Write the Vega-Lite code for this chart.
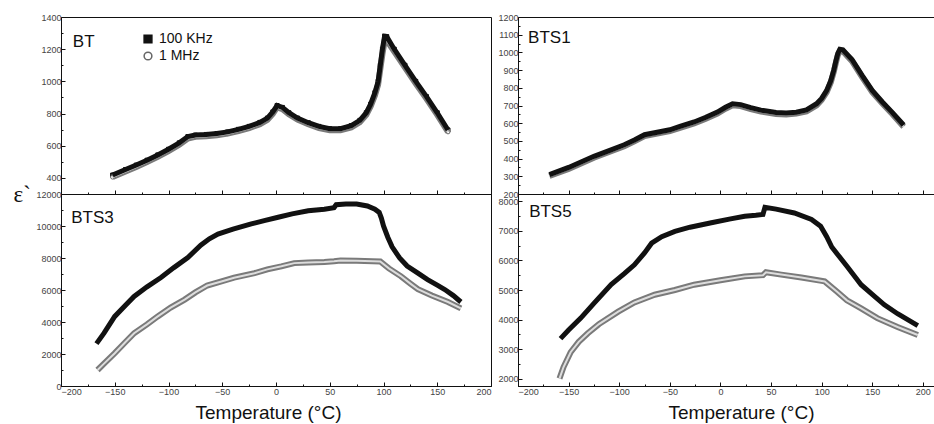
{
  "$schema": "https://vega.github.io/schema/vega-lite/v6.json",
  "background": "white",
  "padding": {"left": 12, "top": 12, "right": 0, "bottom": 0},
  "columns": 2,
  "spacing": {"row": 0, "column": 27},
  "bounds": "flush",
  "config": {
    "view": {"stroke": "#111", "strokeWidth": 1},
    "axis": {"labelFont": "Liberation Sans", "labelFontSize": 9, "labelColor": "#444", "domainColor": "#111", "tickColor": "#111", "titleFont": "Liberation Sans", "titleFontWeight": "normal", "titleColor": "#111", "grid": false, "labelPadding": 4},
    "text": {"font": "Liberation Sans", "fontSize": 17, "color": "#111", "align": "left", "baseline": "alphabetic"}
  },
  "datasets": {
    "bt": [
      {"f":"100 KHz","T":-152,"e":418},{"f":"100 KHz","T":-140,"e":452},{"f":"100 KHz","T":-130,"e":480},{"f":"100 KHz","T":-120,"e":510},{"f":"100 KHz","T":-110,"e":543},{"f":"100 KHz","T":-100,"e":578},{"f":"100 KHz","T":-90,"e":618},{"f":"100 KHz","T":-82,"e":657},{"f":"100 KHz","T":-75,"e":666},{"f":"100 KHz","T":-65,"e":670},{"f":"100 KHz","T":-55,"e":676},{"f":"100 KHz","T":-45,"e":686},{"f":"100 KHz","T":-35,"e":702},{"f":"100 KHz","T":-25,"e":720},{"f":"100 KHz","T":-15,"e":745},{"f":"100 KHz","T":-8,"e":772},{"f":"100 KHz","T":-3,"e":810},{"f":"100 KHz","T":1,"e":850},{"f":"100 KHz","T":6,"e":838},{"f":"100 KHz","T":12,"e":805},{"f":"100 KHz","T":20,"e":772},{"f":"100 KHz","T":30,"e":743},{"f":"100 KHz","T":40,"e":720},{"f":"100 KHz","T":50,"e":706},{"f":"100 KHz","T":60,"e":706},{"f":"100 KHz","T":70,"e":725},{"f":"100 KHz","T":78,"e":758},{"f":"100 KHz","T":84,"e":805},{"f":"100 KHz","T":88,"e":858},{"f":"100 KHz","T":92,"e":930},{"f":"100 KHz","T":95,"e":1000},{"f":"100 KHz","T":97,"e":1100},{"f":"100 KHz","T":99,"e":1200},{"f":"100 KHz","T":101,"e":1280},{"f":"100 KHz","T":103,"e":1278},{"f":"100 KHz","T":110,"e":1200},{"f":"100 KHz","T":120,"e":1100},{"f":"100 KHz","T":130,"e":1000},{"f":"100 KHz","T":140,"e":905},{"f":"100 KHz","T":150,"e":805},{"f":"100 KHz","T":160,"e":698},
      {"f":"1 MHz","T":-152,"e":405},{"f":"1 MHz","T":-140,"e":440},{"f":"1 MHz","T":-130,"e":468},{"f":"1 MHz","T":-120,"e":498},{"f":"1 MHz","T":-110,"e":531},{"f":"1 MHz","T":-100,"e":566},{"f":"1 MHz","T":-90,"e":606},{"f":"1 MHz","T":-82,"e":645},{"f":"1 MHz","T":-75,"e":655},{"f":"1 MHz","T":-65,"e":659},{"f":"1 MHz","T":-55,"e":665},{"f":"1 MHz","T":-45,"e":675},{"f":"1 MHz","T":-35,"e":691},{"f":"1 MHz","T":-25,"e":709},{"f":"1 MHz","T":-15,"e":734},{"f":"1 MHz","T":-8,"e":761},{"f":"1 MHz","T":-3,"e":798},{"f":"1 MHz","T":1,"e":838},{"f":"1 MHz","T":6,"e":827},{"f":"1 MHz","T":12,"e":795},{"f":"1 MHz","T":20,"e":762},{"f":"1 MHz","T":30,"e":733},{"f":"1 MHz","T":40,"e":710},{"f":"1 MHz","T":50,"e":696},{"f":"1 MHz","T":60,"e":696},{"f":"1 MHz","T":70,"e":714},{"f":"1 MHz","T":78,"e":746},{"f":"1 MHz","T":84,"e":792},{"f":"1 MHz","T":88,"e":843},{"f":"1 MHz","T":92,"e":912},{"f":"1 MHz","T":95,"e":980},{"f":"1 MHz","T":97,"e":1075},{"f":"1 MHz","T":99,"e":1170},{"f":"1 MHz","T":101,"e":1250},{"f":"1 MHz","T":103,"e":1255},{"f":"1 MHz","T":110,"e":1185},{"f":"1 MHz","T":120,"e":1086},{"f":"1 MHz","T":130,"e":987},{"f":"1 MHz","T":140,"e":892},{"f":"1 MHz","T":150,"e":792},{"f":"1 MHz","T":160,"e":686}
    ],
    "bts1": [
      {"f":"100 KHz","T":-169,"e":310},{"f":"100 KHz","T":-150,"e":350},{"f":"100 KHz","T":-125,"e":413},{"f":"100 KHz","T":-110,"e":445},{"f":"100 KHz","T":-95,"e":478},{"f":"100 KHz","T":-85,"e":505},{"f":"100 KHz","T":-75,"e":535},{"f":"100 KHz","T":-60,"e":552},{"f":"100 KHz","T":-50,"e":563},{"f":"100 KHz","T":-40,"e":582},{"f":"100 KHz","T":-26,"e":607},{"f":"100 KHz","T":-15,"e":632},{"f":"100 KHz","T":-3,"e":663},{"f":"100 KHz","T":5,"e":690},{"f":"100 KHz","T":12,"e":710},{"f":"100 KHz","T":20,"e":705},{"f":"100 KHz","T":30,"e":688},{"f":"100 KHz","T":40,"e":674},{"f":"100 KHz","T":55,"e":660},{"f":"100 KHz","T":65,"e":657},{"f":"100 KHz","T":75,"e":662},{"f":"100 KHz","T":85,"e":675},{"f":"100 KHz","T":95,"e":710},{"f":"100 KHz","T":100,"e":740},{"f":"100 KHz","T":105,"e":785},{"f":"100 KHz","T":109,"e":840},{"f":"100 KHz","T":112,"e":900},{"f":"100 KHz","T":114,"e":950},{"f":"100 KHz","T":116,"e":995},{"f":"100 KHz","T":118,"e":1018},{"f":"100 KHz","T":121,"e":1015},{"f":"100 KHz","T":125,"e":990},{"f":"100 KHz","T":130,"e":960},{"f":"100 KHz","T":140,"e":870},{"f":"100 KHz","T":150,"e":785},{"f":"100 KHz","T":160,"e":720},{"f":"100 KHz","T":170,"e":660},{"f":"100 KHz","T":181,"e":590},
      {"f":"1 MHz","T":-169,"e":302},{"f":"1 MHz","T":-150,"e":342},{"f":"1 MHz","T":-125,"e":405},{"f":"1 MHz","T":-110,"e":437},{"f":"1 MHz","T":-95,"e":470},{"f":"1 MHz","T":-85,"e":497},{"f":"1 MHz","T":-75,"e":527},{"f":"1 MHz","T":-60,"e":544},{"f":"1 MHz","T":-50,"e":555},{"f":"1 MHz","T":-40,"e":574},{"f":"1 MHz","T":-26,"e":599},{"f":"1 MHz","T":-15,"e":624},{"f":"1 MHz","T":-3,"e":655},{"f":"1 MHz","T":5,"e":682},{"f":"1 MHz","T":12,"e":701},{"f":"1 MHz","T":20,"e":697},{"f":"1 MHz","T":30,"e":680},{"f":"1 MHz","T":40,"e":666},{"f":"1 MHz","T":55,"e":652},{"f":"1 MHz","T":65,"e":649},{"f":"1 MHz","T":75,"e":654},{"f":"1 MHz","T":85,"e":667},{"f":"1 MHz","T":95,"e":701},{"f":"1 MHz","T":100,"e":731},{"f":"1 MHz","T":105,"e":776},{"f":"1 MHz","T":109,"e":830},{"f":"1 MHz","T":112,"e":890},{"f":"1 MHz","T":114,"e":940},{"f":"1 MHz","T":116,"e":985},{"f":"1 MHz","T":118,"e":1008},{"f":"1 MHz","T":121,"e":1006},{"f":"1 MHz","T":125,"e":981},{"f":"1 MHz","T":130,"e":951},{"f":"1 MHz","T":140,"e":861},{"f":"1 MHz","T":150,"e":776},{"f":"1 MHz","T":160,"e":711},{"f":"1 MHz","T":170,"e":651},{"f":"1 MHz","T":181,"e":580}
    ],
    "bts3": [
      {"f":"100 KHz","T":-167,"e":2650},{"f":"100 KHz","T":-160,"e":3300},{"f":"100 KHz","T":-150,"e":4350},{"f":"100 KHz","T":-140,"e":5050},{"f":"100 KHz","T":-132,"e":5600},{"f":"100 KHz","T":-120,"e":6200},{"f":"100 KHz","T":-107,"e":6780},{"f":"100 KHz","T":-95,"e":7400},{"f":"100 KHz","T":-82,"e":8030},{"f":"100 KHz","T":-70,"e":8800},{"f":"100 KHz","T":-62,"e":9200},{"f":"100 KHz","T":-54,"e":9500},{"f":"100 KHz","T":-40,"e":9800},{"f":"100 KHz","T":-23,"e":10130},{"f":"100 KHz","T":-10,"e":10350},{"f":"100 KHz","T":2,"e":10550},{"f":"100 KHz","T":15,"e":10760},{"f":"100 KHz","T":30,"e":10950},{"f":"100 KHz","T":45,"e":11050},{"f":"100 KHz","T":54,"e":11150},{"f":"100 KHz","T":56,"e":11330},{"f":"100 KHz","T":65,"e":11380},{"f":"100 KHz","T":75,"e":11370},{"f":"100 KHz","T":85,"e":11250},{"f":"100 KHz","T":92,"e":11050},{"f":"100 KHz","T":96,"e":10850},{"f":"100 KHz","T":98,"e":10500},{"f":"100 KHz","T":100,"e":10000},{"f":"100 KHz","T":104,"e":9300},{"f":"100 KHz","T":108,"e":8700},{"f":"100 KHz","T":115,"e":8000},{"f":"100 KHz","T":122,"e":7500},{"f":"100 KHz","T":132,"e":7050},{"f":"100 KHz","T":141,"e":6650},{"f":"100 KHz","T":150,"e":6300},{"f":"100 KHz","T":157,"e":6030},{"f":"100 KHz","T":165,"e":5650},{"f":"100 KHz","T":172,"e":5250},
      {"f":"1 MHz","T":-166,"e":1000},{"f":"1 MHz","T":-160,"e":1400},{"f":"1 MHz","T":-150,"e":2050},{"f":"1 MHz","T":-140,"e":2750},{"f":"1 MHz","T":-132,"e":3300},{"f":"1 MHz","T":-120,"e":3850},{"f":"1 MHz","T":-110,"e":4350},{"f":"1 MHz","T":-98,"e":4900},{"f":"1 MHz","T":-85,"e":5400},{"f":"1 MHz","T":-75,"e":5850},{"f":"1 MHz","T":-64,"e":6280},{"f":"1 MHz","T":-50,"e":6550},{"f":"1 MHz","T":-39,"e":6770},{"f":"1 MHz","T":-20,"e":7050},{"f":"1 MHz","T":-8,"e":7290},{"f":"1 MHz","T":5,"e":7480},{"f":"1 MHz","T":17,"e":7680},{"f":"1 MHz","T":30,"e":7720},{"f":"1 MHz","T":45,"e":7750},{"f":"1 MHz","T":54,"e":7800},{"f":"1 MHz","T":60,"e":7850},{"f":"1 MHz","T":75,"e":7830},{"f":"1 MHz","T":90,"e":7800},{"f":"1 MHz","T":97,"e":7780},{"f":"1 MHz","T":105,"e":7350},{"f":"1 MHz","T":116,"e":6870},{"f":"1 MHz","T":125,"e":6400},{"f":"1 MHz","T":132,"e":6050},{"f":"1 MHz","T":145,"e":5650},{"f":"1 MHz","T":160,"e":5250},{"f":"1 MHz","T":172,"e":4850}
    ],
    "bts5": [
      {"f":"100 KHz","T":-158,"e":3360},{"f":"100 KHz","T":-150,"e":3650},{"f":"100 KHz","T":-138,"e":4050},{"f":"100 KHz","T":-125,"e":4550},{"f":"100 KHz","T":-108,"e":5180},{"f":"100 KHz","T":-95,"e":5550},{"f":"100 KHz","T":-85,"e":5850},{"f":"100 KHz","T":-75,"e":6250},{"f":"100 KHz","T":-68,"e":6580},{"f":"100 KHz","T":-58,"e":6800},{"f":"100 KHz","T":-45,"e":6980},{"f":"100 KHz","T":-30,"e":7120},{"f":"100 KHz","T":-9,"e":7270},{"f":"100 KHz","T":10,"e":7400},{"f":"100 KHz","T":24,"e":7490},{"f":"100 KHz","T":35,"e":7520},{"f":"100 KHz","T":42,"e":7550},{"f":"100 KHz","T":44,"e":7790},{"f":"100 KHz","T":55,"e":7730},{"f":"100 KHz","T":73,"e":7600},{"f":"100 KHz","T":90,"e":7380},{"f":"100 KHz","T":99,"e":7150},{"f":"100 KHz","T":105,"e":6800},{"f":"100 KHz","T":110,"e":6450},{"f":"100 KHz","T":116,"e":6190},{"f":"100 KHz","T":125,"e":5800},{"f":"100 KHz","T":139,"e":5180},{"f":"100 KHz","T":150,"e":4850},{"f":"100 KHz","T":162,"e":4500},{"f":"100 KHz","T":175,"e":4200},{"f":"100 KHz","T":185,"e":4000},{"f":"100 KHz","T":195,"e":3800},
      {"f":"1 MHz","T":-159,"e":2010},{"f":"1 MHz","T":-155,"e":2400},{"f":"1 MHz","T":-148,"e":2900},{"f":"1 MHz","T":-140,"e":3250},{"f":"1 MHz","T":-131,"e":3540},{"f":"1 MHz","T":-120,"e":3850},{"f":"1 MHz","T":-101,"e":4270},{"f":"1 MHz","T":-85,"e":4580},{"f":"1 MHz","T":-65,"e":4840},{"f":"1 MHz","T":-45,"e":5000},{"f":"1 MHz","T":-26,"e":5180},{"f":"1 MHz","T":0,"e":5330},{"f":"1 MHz","T":24,"e":5460},{"f":"1 MHz","T":42,"e":5500},{"f":"1 MHz","T":45,"e":5600},{"f":"1 MHz","T":60,"e":5520},{"f":"1 MHz","T":80,"e":5420},{"f":"1 MHz","T":103,"e":5290},{"f":"1 MHz","T":115,"e":4950},{"f":"1 MHz","T":125,"e":4650},{"f":"1 MHz","T":139,"e":4380},{"f":"1 MHz","T":155,"e":4050},{"f":"1 MHz","T":175,"e":3750},{"f":"1 MHz","T":195,"e":3480}
    ]
  },
  "resolve": {
    "scale": {"shape": "independent", "fill": "independent", "stroke": "independent"},
    "legend": {"shape": "independent", "fill": "independent", "stroke": "independent"}
  },
  "concat": [
    {
      "width": 430, "height": 177,
      "data": {"name": "bt"},
      "encoding": {
        "x": {"field": "T", "type": "quantitative", "scale": {"domain": [-200, 200], "nice": false, "zero": false},
          "axis": {"values": [-200,-175,-150,-125,-100,-75,-50,-25,0,25,50,75,100,125,150,175,200], "labels": false, "title": null, "tickSize": {"condition": {"test": "datum.value % 50 != 0", "value": -2}, "value": -4}}},
        "y": {"field": "e", "type": "quantitative", "scale": {"domain": [300, 1400], "nice": false, "zero": false},
          "axis": {"values": [400,500,600,700,800,900,1000,1100,1200,1300,1400], "format": "d", "labelExpr": "datum.value % 200 == 0 ? datum.label : ''", "tickSize": {"condition": {"test": "datum.value % 200 != 0", "value": -2}, "value": -4},
            "title": "ε`", "titleAngle": 0, "titleX": -48, "titleY": 177, "titleAlign": "left", "titleBaseline": "middle", "titleFontSize": 23, "titleFont": "Liberation Serif"}}
      },
      "layer": [
        {"mark": {"type": "point", "size": 16, "strokeWidth": 1, "opacity": 1},
          "encoding": {
            "shape": {"field": "f", "type": "nominal", "scale": {"domain": ["100 KHz", "1 MHz"], "range": ["square", "circle"]},
              "legend": {"orient": "none", "legendX": 80, "legendY": 15, "title": null, "labelFontSize": 14, "labelFont": "Liberation Sans", "labelColor": "#111", "symbolSize": 60, "rowPadding": 3}},
            "fill": {"field": "f", "type": "nominal", "scale": {"domain": ["100 KHz", "1 MHz"], "range": ["#111111", "#ffffff"]}},
            "stroke": {"field": "f", "type": "nominal", "scale": {"domain": ["100 KHz", "1 MHz"], "range": ["#111111", "#666666"]}}
          }},
        {"transform": [{"filter": "datum.f == '1 MHz'"}], "mark": {"type": "line", "color": "#7a7a7a", "strokeWidth": 6}},
        {"transform": [{"filter": "datum.f == '1 MHz'"}], "mark": {"type": "line", "color": "#dddddd", "strokeWidth": 2}},
        {"transform": [{"filter": "datum.f == '100 KHz'"}], "mark": {"type": "line", "color": "#111111", "strokeWidth": 5}},
        {"data": {"values": [{"name": "BT", "T": -189, "e": 1214}]}, "mark": {"type": "text"}, "encoding": {"text": {"field": "name"}}}
      ]
    },
    {
      "width": 417, "height": 177,
      "data": {"name": "bts1"},
      "encoding": {
        "x": {"field": "T", "type": "quantitative", "scale": {"domain": [-200, 212], "nice": false, "zero": false},
          "axis": {"values": [-200,-175,-150,-125,-100,-75,-50,-25,0,25,50,75,100,125,150,175,200], "labels": false, "title": null, "tickSize": {"condition": {"test": "datum.value % 50 != 0", "value": -2}, "value": -4}}},
        "y": {"field": "e", "type": "quantitative", "scale": {"domain": [200, 1200], "nice": false, "zero": false},
          "axis": {"values": [200,250,300,350,400,450,500,550,600,650,700,750,800,850,900,950,1000,1050,1100,1150,1200], "format": "d", "labelExpr": "datum.value % 100 == 0 ? datum.label : ''", "tickSize": {"condition": {"test": "datum.value % 100 != 0", "value": -2}, "value": -4}, "title": null}}
      },
      "layer": [
        {"transform": [{"filter": "datum.f == '1 MHz'"}], "mark": {"type": "line", "color": "#7a7a7a", "strokeWidth": 6}},
        {"transform": [{"filter": "datum.f == '1 MHz'"}], "mark": {"type": "line", "color": "#dddddd", "strokeWidth": 2}},
        {"transform": [{"filter": "datum.f == '100 KHz'"}], "mark": {"type": "line", "color": "#111111", "strokeWidth": 5}},
        {"data": {"values": [{"name": "BTS1", "T": -190, "e": 1053}]}, "mark": {"type": "text"}, "encoding": {"text": {"field": "name"}}}
      ]
    },
    {
      "width": 430, "height": 192,
      "data": {"name": "bts3"},
      "encoding": {
        "x": {"field": "T", "type": "quantitative", "scale": {"domain": [-200, 200], "nice": false, "zero": false},
          "axis": {"values": [-200,-175,-150,-125,-100,-75,-50,-25,0,25,50,75,100,125,150,175,200], "format": "d", "labelExpr": "datum.value % 50 == 0 ? datum.label : ''", "tickSize": {"condition": {"test": "datum.value % 50 != 0", "value": -2}, "value": -4}, "labelPadding": 5,
            "title": "Temperature (°C)", "titleFontSize": 19, "titlePadding": 7, "titleX": 207}},
        "y": {"field": "e", "type": "quantitative", "scale": {"domain": [0, 12000], "nice": false},
          "axis": {"values": [0,1000,2000,3000,4000,5000,6000,7000,8000,9000,10000,11000,12000], "format": "d", "labelExpr": "datum.value % 2000 == 0 ? datum.label : ''", "tickSize": {"condition": {"test": "datum.value % 2000 != 0", "value": -2}, "value": -4}, "title": null}}
      },
      "layer": [
        {"transform": [{"filter": "datum.f == '1 MHz'"}], "mark": {"type": "line", "color": "#7a7a7a", "strokeWidth": 6}},
        {"transform": [{"filter": "datum.f == '1 MHz'"}], "mark": {"type": "line", "color": "#dddddd", "strokeWidth": 2}},
        {"transform": [{"filter": "datum.f == '100 KHz'"}], "mark": {"type": "line", "color": "#111111", "strokeWidth": 5}},
        {"data": {"values": [{"name": "BTS3", "T": -190.5, "e": 10190}]}, "mark": {"type": "text"}, "encoding": {"text": {"field": "name"}}}
      ]
    },
    {
      "width": 417, "height": 192,
      "data": {"name": "bts5"},
      "encoding": {
        "x": {"field": "T", "type": "quantitative", "scale": {"domain": [-200, 212], "nice": false, "zero": false},
          "axis": {"values": [-200,-175,-150,-125,-100,-75,-50,-25,0,25,50,75,100,125,150,175,200], "format": "d", "labelExpr": "datum.value % 50 == 0 ? datum.label : ''", "tickSize": {"condition": {"test": "datum.value % 50 != 0", "value": -2}, "value": -4}, "labelPadding": 5,
            "title": "Temperature (°C)", "titleFontSize": 19, "titlePadding": 7, "titleX": 223}},
        "y": {"field": "e", "type": "quantitative", "scale": {"domain": [1760, 8240], "nice": false, "zero": false},
          "axis": {"values": [2000,2500,3000,3500,4000,4500,5000,5500,6000,6500,7000,7500,8000], "format": "d", "labelExpr": "datum.value % 1000 == 0 ? datum.label : ''", "tickSize": {"condition": {"test": "datum.value % 1000 != 0", "value": -2}, "value": -4}, "title": null}}
      },
      "layer": [
        {"transform": [{"filter": "datum.f == '1 MHz'"}], "mark": {"type": "line", "color": "#7a7a7a", "strokeWidth": 6}},
        {"transform": [{"filter": "datum.f == '1 MHz'"}], "mark": {"type": "line", "color": "#dddddd", "strokeWidth": 2}},
        {"transform": [{"filter": "datum.f == '100 KHz'"}], "mark": {"type": "line", "color": "#111111", "strokeWidth": 5}},
        {"data": {"values": [{"name": "BTS5", "T": -189, "e": 7460}]}, "mark": {"type": "text"}, "encoding": {"text": {"field": "name"}}}
      ]
    }
  ]
}
